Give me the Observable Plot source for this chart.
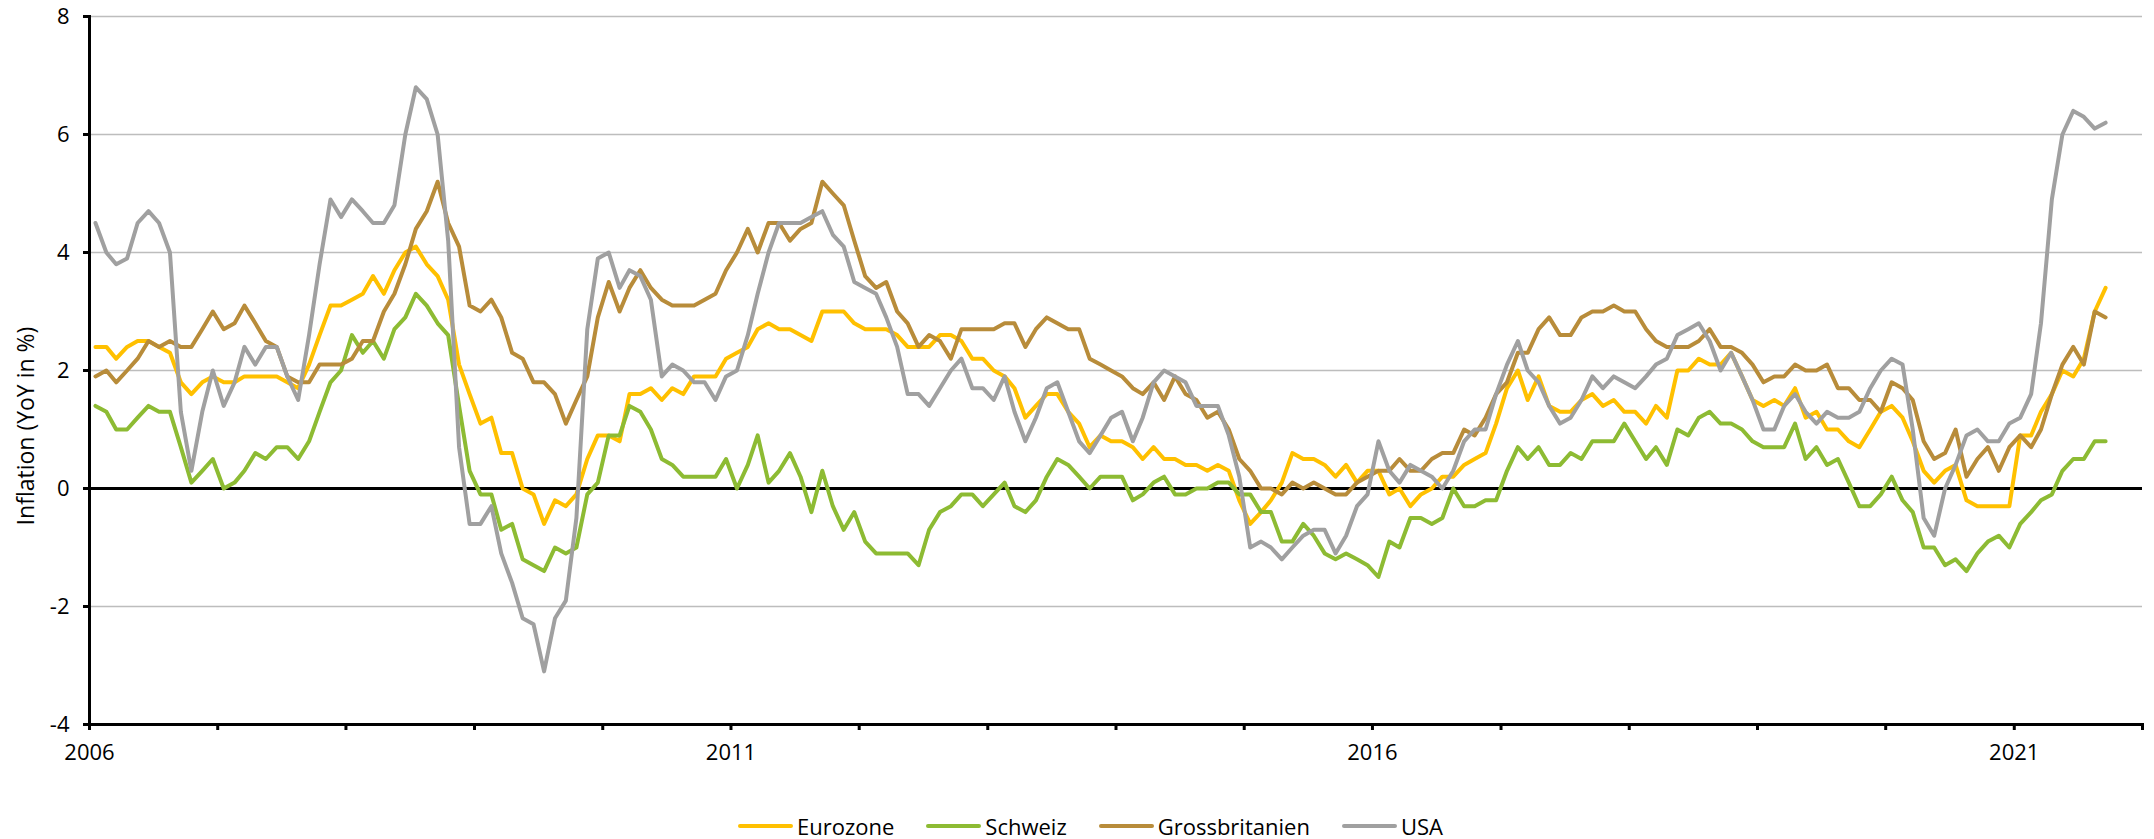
<!DOCTYPE html>
<html>
<head>
<meta charset="utf-8">
<script src="https://cdn.jsdelivr.net/npm/d3@7"></script>
<script src="https://cdn.jsdelivr.net/npm/@observablehq/plot@0.6"></script>
<style>
  body { margin: 0; background: #fff; font-family: "Open Sans", sans-serif; }
  #wrap { position: relative; width: 2154px; height: 839px; }
  #legend { position: absolute; left: 738px; top: 811px; display: flex; gap: 32px; align-items: center; font-size: 22px; line-height: 30px; color: #000; }
  .item { display: flex; align-items: center; gap: 4px; }
  .sw { width: 55px; height: 4px; border-radius: 2px; }
</style>
</head>
<body>
<div id="wrap"><div id="chart"></div><div id="legend"></div></div>
<script>
// ---- data (monthly YoY inflation, Jan 2006 – Sep 2021) ----
const seriesNames = ["Eurozone", "Schweiz", "Grossbritanien", "USA"];
const seriesColors = ["#FFC000", "#8DBB33", "#B88C3A", "#A0A0A0"];

const eurozone = [
  2.4, 2.4, 2.2, 2.4, 2.5, 2.5, 2.4, 2.3, 1.8, 1.6, 1.8, 1.9,
  1.8, 1.8, 1.9, 1.9, 1.9, 1.9, 1.8, 1.7, 2.1, 2.6, 3.1, 3.1,
  3.2, 3.3, 3.6, 3.3, 3.7, 4.0, 4.1, 3.8, 3.6, 3.2, 2.1, 1.6,
  1.1, 1.2, 0.6, 0.6, 0.0, -0.1, -0.6, -0.2, -0.3, -0.1, 0.5, 0.9,
  0.9, 0.8, 1.6, 1.6, 1.7, 1.5, 1.7, 1.6, 1.9, 1.9, 1.9, 2.2,
  2.3, 2.4, 2.7, 2.8, 2.7, 2.7, 2.6, 2.5, 3.0, 3.0, 3.0, 2.8,
  2.7, 2.7, 2.7, 2.6, 2.4, 2.4, 2.4, 2.6, 2.6, 2.5, 2.2, 2.2,
  2.0, 1.9, 1.7, 1.2, 1.4, 1.6, 1.6, 1.3, 1.1, 0.7, 0.9, 0.8,
  0.8, 0.7, 0.5, 0.7, 0.5, 0.5, 0.4, 0.4, 0.3, 0.4, 0.3, -0.2,
  -0.6, -0.4, -0.2, 0.1, 0.6, 0.5, 0.5, 0.4, 0.2, 0.4, 0.1, 0.3,
  0.3, -0.1, 0.0, -0.3, -0.1, 0.0, 0.2, 0.2, 0.4, 0.5, 0.6, 1.1,
  1.7, 2.0, 1.5, 1.9, 1.4, 1.3, 1.3, 1.5, 1.6, 1.4, 1.5, 1.3,
  1.3, 1.1, 1.4, 1.2, 2.0, 2.0, 2.2, 2.1, 2.1, 2.3, 1.9, 1.5,
  1.4, 1.5, 1.4, 1.7, 1.2, 1.3, 1.0, 1.0, 0.8, 0.7, 1.0, 1.3,
  1.4, 1.2, 0.8, 0.3, 0.1, 0.3, 0.4, -0.2, -0.3, -0.3, -0.3, -0.3,
  0.9, 0.9, 1.3, 1.6, 2.0, 1.9, 2.2, 3.0, 3.4
];

const schweiz = [
  1.4, 1.3, 1.0, 1.0, 1.2, 1.4, 1.3, 1.3, 0.7, 0.1, 0.3, 0.5,
  0.0, 0.1, 0.3, 0.6, 0.5, 0.7, 0.7, 0.5, 0.8, 1.3, 1.8, 2.0,
  2.6, 2.3, 2.5, 2.2, 2.7, 2.9, 3.3, 3.1, 2.8, 2.6, 1.4, 0.3,
  -0.1, -0.1, -0.7, -0.6, -1.2, -1.3, -1.4, -1.0, -1.1, -1.0, -0.1, 0.1,
  0.9, 0.9, 1.4, 1.3, 1.0, 0.5, 0.4, 0.2, 0.2, 0.2, 0.2, 0.5,
  0.0, 0.4, 0.9, 0.1, 0.3, 0.6, 0.2, -0.4, 0.3, -0.3, -0.7, -0.4,
  -0.9, -1.1, -1.1, -1.1, -1.1, -1.3, -0.7, -0.4, -0.3, -0.1, -0.1, -0.3,
  -0.1, 0.1, -0.3, -0.4, -0.2, 0.2, 0.5, 0.4, 0.2, 0.0, 0.2, 0.2,
  0.2, -0.2, -0.1, 0.1, 0.2, -0.1, -0.1, 0.0, 0.0, 0.1, 0.1, -0.1,
  -0.1, -0.4, -0.4, -0.9, -0.9, -0.6, -0.8, -1.1, -1.2, -1.1, -1.2, -1.3,
  -1.5, -0.9, -1.0, -0.5, -0.5, -0.6, -0.5, 0.0, -0.3, -0.3, -0.2, -0.2,
  0.3, 0.7, 0.5, 0.7, 0.4, 0.4, 0.6, 0.5, 0.8, 0.8, 0.8, 1.1,
  0.8, 0.5, 0.7, 0.4, 1.0, 0.9, 1.2, 1.3, 1.1, 1.1, 1.0, 0.8,
  0.7, 0.7, 0.7, 1.1, 0.5, 0.7, 0.4, 0.5, 0.1, -0.3, -0.3, -0.1,
  0.2, -0.2, -0.4, -1.0, -1.0, -1.3, -1.2, -1.4, -1.1, -0.9, -0.8, -1.0,
  -0.6, -0.4, -0.2, -0.1, 0.3, 0.5, 0.5, 0.8, 0.8
];

const grossbritanien = [
  1.9, 2.0, 1.8, 2.0, 2.2, 2.5, 2.4, 2.5, 2.4, 2.4, 2.7, 3.0,
  2.7, 2.8, 3.1, 2.8, 2.5, 2.4, 1.9, 1.8, 1.8, 2.1, 2.1, 2.1,
  2.2, 2.5, 2.5, 3.0, 3.3, 3.8, 4.4, 4.7, 5.2, 4.5, 4.1, 3.1,
  3.0, 3.2, 2.9, 2.3, 2.2, 1.8, 1.8, 1.6, 1.1, 1.5, 1.9, 2.9,
  3.5, 3.0, 3.4, 3.7, 3.4, 3.2, 3.1, 3.1, 3.1, 3.2, 3.3, 3.7,
  4.0, 4.4, 4.0, 4.5, 4.5, 4.2, 4.4, 4.5, 5.2, 5.0, 4.8, 4.2,
  3.6, 3.4, 3.5, 3.0, 2.8, 2.4, 2.6, 2.5, 2.2, 2.7, 2.7, 2.7,
  2.7, 2.8, 2.8, 2.4, 2.7, 2.9, 2.8, 2.7, 2.7, 2.2, 2.1, 2.0,
  1.9, 1.7, 1.6, 1.8, 1.5, 1.9, 1.6, 1.5, 1.2, 1.3, 1.0, 0.5,
  0.3, 0.0, 0.0, -0.1, 0.1, 0.0, 0.1, 0.0, -0.1, -0.1, 0.1, 0.2,
  0.3, 0.3, 0.5, 0.3, 0.3, 0.5, 0.6, 0.6, 1.0, 0.9, 1.2, 1.6,
  1.8, 2.3, 2.3, 2.7, 2.9, 2.6, 2.6, 2.9, 3.0, 3.0, 3.1, 3.0,
  3.0, 2.7, 2.5, 2.4, 2.4, 2.4, 2.5, 2.7, 2.4, 2.4, 2.3, 2.1,
  1.8, 1.9, 1.9, 2.1, 2.0, 2.0, 2.1, 1.7, 1.7, 1.5, 1.5, 1.3,
  1.8, 1.7, 1.5, 0.8, 0.5, 0.6, 1.0, 0.2, 0.5, 0.7, 0.3, 0.7,
  0.9, 0.7, 1.0, 1.6, 2.1, 2.4, 2.1, 3.0, 2.9
];

const usa = [
  4.5, 4.0, 3.8, 3.9, 4.5, 4.7, 4.5, 4.0, 1.3, 0.3, 1.3, 2.0,
  1.4, 1.8, 2.4, 2.1, 2.4, 2.4, 1.9, 1.5, 2.6, 3.8, 4.9, 4.6,
  4.9, 4.7, 4.5, 4.5, 4.8, 6.0, 6.8, 6.6, 6.0, 4.2, 0.7, -0.6,
  -0.6, -0.3, -1.1, -1.6, -2.2, -2.3, -3.1, -2.2, -1.9, -0.5, 2.7, 3.9,
  4.0, 3.4, 3.7, 3.6, 3.2, 1.9, 2.1, 2.0, 1.8, 1.8, 1.5, 1.9,
  2.0, 2.6, 3.3, 4.0, 4.5, 4.5, 4.5, 4.6, 4.7, 4.3, 4.1, 3.5,
  3.4, 3.3, 2.9, 2.4, 1.6, 1.6, 1.4, 1.7, 2.0, 2.2, 1.7, 1.7,
  1.5, 1.9, 1.3, 0.8, 1.2, 1.7, 1.8, 1.3, 0.8, 0.6, 0.9, 1.2,
  1.3, 0.8, 1.2, 1.8, 2.0, 1.9, 1.8, 1.4, 1.4, 1.4, 0.9, 0.2,
  -1.0, -0.9, -1.0, -1.2, -1.0, -0.8, -0.7, -0.7, -1.1, -0.8, -0.3, -0.1,
  0.8, 0.3, 0.1, 0.4, 0.3, 0.2, 0.0, 0.3, 0.8, 1.0, 1.0, 1.6,
  2.1, 2.5, 2.0, 1.8, 1.4, 1.1, 1.2, 1.5, 1.9, 1.7, 1.9, 1.8,
  1.7, 1.9, 2.1, 2.2, 2.6, 2.7, 2.8, 2.5, 2.0, 2.3, 1.9, 1.5,
  1.0, 1.0, 1.4, 1.6, 1.3, 1.1, 1.3, 1.2, 1.2, 1.3, 1.7, 2.0,
  2.2, 2.1, 1.0, -0.5, -0.8, 0.0, 0.4, 0.9, 1.0, 0.8, 0.8, 1.1,
  1.2, 1.6, 2.8, 4.9, 6.0, 6.4, 6.3, 6.1, 6.2
];

const startYear = 2006;
const endYear = 2022;
const yDomain = [-4, 8];
const yTicks = [-4, -2, 0, 2, 4, 6, 8];
const gridValues = [-2, 2, 4, 6, 8];
const xLabelYears = [2006, 2011, 2016, 2021];
const yLabel = "Inflation (YoY in %)";

// ---- build table ----
const seriesValues = [eurozone, schweiz, grossbritanien, usa];
const rows = [];
seriesNames.forEach((name, s) => {
  seriesValues[s].forEach((v, i) => {
    rows.push({ series: name, date: new Date(Date.UTC(startYear, i, 18)), value: v });
  });
});

const font = '"Open Sans", sans-serif';
const chart = Plot.plot({
  width: 2154,
  height: 790,
  marginLeft: 89,
  marginRight: 12,
  marginTop: 16,
  marginBottom: 66,
  style: { fontFamily: font, fontSize: "22px", color: "#000", background: "#fff", overflow: "visible" },
  x: { type: "utc", domain: [new Date(Date.UTC(startYear, 0, 1)), new Date(Date.UTC(endYear, 0, 1))] },
  y: { domain: yDomain },
  color: { domain: seriesNames, range: seriesColors },
  marks: [
    Plot.ruleY(gridValues, { stroke: "#BDBDBD", strokeWidth: 1.6 }),
    Plot.ruleY([0], { stroke: "#000", strokeWidth: 3 }),
    Plot.line(rows, {
      x: "date", y: "value", z: "series", stroke: "series",
      strokeWidth: 4, strokeLinejoin: "round", strokeLinecap: "round"
    }),
    Plot.frame({ anchor: "left", stroke: "#000", strokeWidth: 3 }),
    Plot.frame({ anchor: "bottom", stroke: "#000", strokeWidth: 3 }),
    Plot.axisY({
      ticks: yTicks, tickSize: 6, tickPadding: 14, strokeWidth: 3,
      tickFormat: d => String(d), label: null, fill: "#000"
    }),
    Plot.axisX({
      ticks: d3.utcYear.range(new Date(Date.UTC(startYear, 0, 1)), new Date(Date.UTC(endYear, 0, 2))),
      tickSize: 6, tickPadding: 14, strokeWidth: 3,
      tickFormat: d => xLabelYears.includes(d.getUTCFullYear()) ? String(d.getUTCFullYear()) : "",
      label: null, fill: "#000"
    })
  ]
});
document.getElementById("chart").appendChild(chart);

// y-axis title (rotated), placed left of the tick labels
d3.select(chart).append("text")
  .attr("transform", "translate(28,426) rotate(-90)")
  .attr("text-anchor", "middle")
  .attr("dominant-baseline", "middle")
  .attr("font-family", font)
  .attr("font-size", 23)
  .attr("fill", "#000")
  .text(yLabel);

// ---- legend ----
const legend = document.getElementById("legend");
seriesNames.forEach((name, s) => {
  const item = document.createElement("div");
  item.className = "item";
  const sw = document.createElement("span");
  sw.className = "sw";
  sw.style.background = seriesColors[s];
  const label = document.createElement("span");
  label.textContent = name;
  item.appendChild(sw);
  item.appendChild(label);
  legend.appendChild(item);
});
</script>
</body>
</html>
